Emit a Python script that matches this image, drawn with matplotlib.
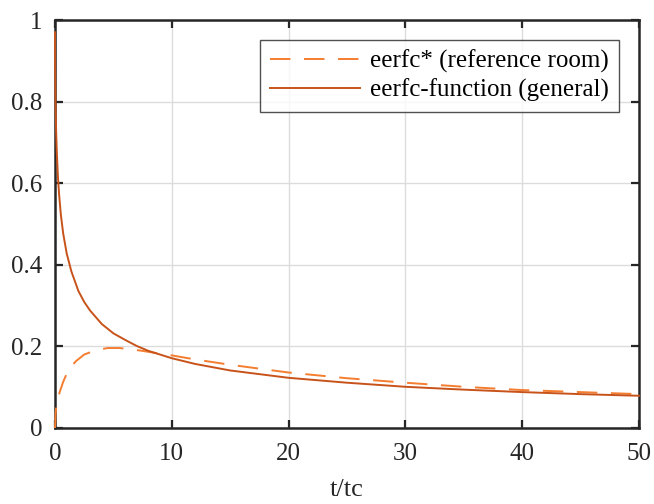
import matplotlib
matplotlib.use("Agg")
import matplotlib.pyplot as plt

# eerfc-function (general), read at sample points t/tc
t_general = [0.0, 0.01, 0.03, 0.06, 0.1, 0.16, 0.25, 0.35, 0.5, 0.7, 1.0, 1.4, 2.0, 2.5,
             3.0, 4.0, 5.0, 6.0, 7.0, 8.0, 10.0, 12.0, 15.0, 20.0, 25.0, 30.0, 35.0,
             40.0, 45.0, 50.0]
eerfc_general = [0.97, 0.90, 0.83, 0.77, 0.724, 0.673, 0.616, 0.573, 0.523, 0.477,
                 0.428, 0.384, 0.336, 0.309, 0.288, 0.255, 0.232, 0.216, 0.201, 0.189,
                 0.171, 0.157, 0.141, 0.123, 0.111, 0.101, 0.094, 0.088, 0.083, 0.079]

# eerfc* (reference room)
t_ref = [0.0, 0.05, 0.1, 0.2, 0.4, 0.7, 1.0, 1.4, 1.8, 2.5, 3.4, 4.5, 5.5, 6.5, 7.5,
         9.0, 10.0, 12.0, 15.0, 20.0, 25.0, 30.0, 35.0, 40.0, 45.0, 50.0]
eerfc_ref = [0.0, 0.035, 0.05, 0.066, 0.088, 0.113, 0.133, 0.151, 0.164, 0.180, 0.190,
             0.196, 0.196, 0.193, 0.189, 0.182, 0.178, 0.168, 0.155, 0.136, 0.122,
             0.111, 0.101, 0.093, 0.088, 0.083]

plt.rcParams["font.family"] = ["Liberation Serif", "DejaVu Serif"]

fig = plt.figure(figsize=(6.54, 5.04), dpi=100)
ax = fig.add_axes([0.0841, 0.1508, 0.8929, 0.8095])

# curves sit on top of the axes box, so the steep start stays visible
ax.plot(t_ref, eerfc_ref, color="#f47d30", lw=1.4, dashes=(10.5, 7),
        label="eerfc* (reference room)", zorder=3, clip_on=False)
ax.plot(t_general, eerfc_general, color="#c8531a", lw=1.4,
        label="eerfc-function (general)", zorder=3, clip_on=False)

ax.set_xlim(0, 50)
ax.set_ylim(0, 1)
ax.set_xticks([0, 10, 20, 30, 40, 50])
ax.set_yticks([0, 0.2, 0.4, 0.6, 0.8, 1])
ax.set_yticklabels(["0", "0.2", "0.4", "0.6", "0.8", "1"])
ax.grid(True, color="#dcdcdc", lw=1.0)
ax.set_axisbelow(True)

ax.tick_params(direction="in", length=6, width=1.6, top=True, right=True,
               labelsize=18, colors="#262626")
ax.tick_params(axis="x", pad=11)
ax.tick_params(axis="y", pad=9)
for s in ax.spines.values():
    s.set_linewidth(1.8)
    s.set_color("#262626")

ax.set_xlabel("t/tc", fontsize=19, color="#262626", labelpad=10)

leg = ax.legend(loc="upper right", fontsize=18, frameon=True, fancybox=False,
                borderpad=0.4, handlelength=3.6, handletextpad=0.4,
                labelspacing=0.2, borderaxespad=0.8)
leg.set_zorder(5)
leg.get_frame().set_edgecolor("#262626")
leg.get_frame().set_linewidth(1.0)

fig.savefig("out.png", dpi=100)
